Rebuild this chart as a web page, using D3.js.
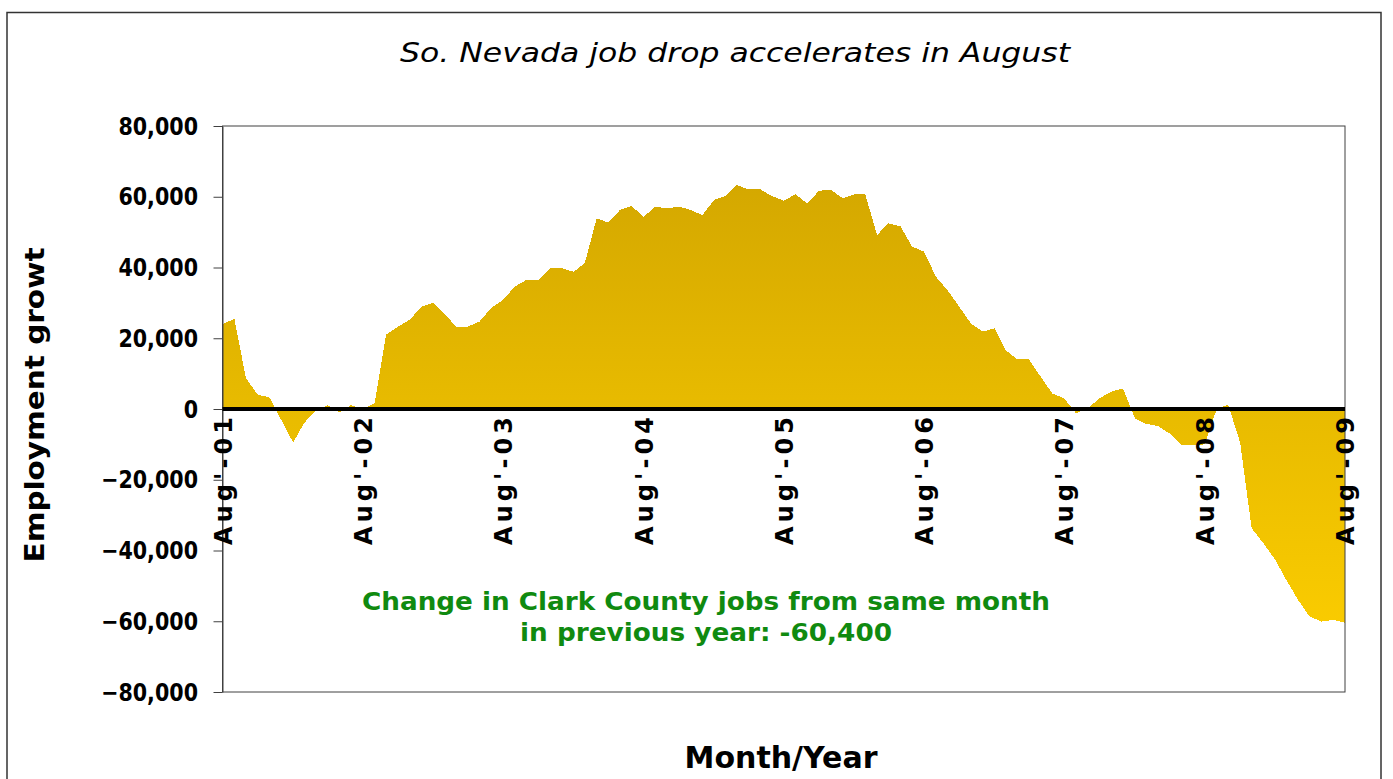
<!DOCTYPE html>
<html>
<head>
<meta charset="utf-8">
<script src="https://cdn.jsdelivr.net/npm/d3@7"></script>
<style>
  body { margin: 0; background: #fff; }
  text { font-family: "DejaVu Sans", Verdana, sans-serif; }
</style>
</head>
<body>
<div id="chart"></div>
<script>
// --- data ---
var startMonth = new Date(2001, 7, 1); // Aug 2001, one value per month to Aug 2009
var jobGrowth = [
  24000, 25500, 8700, 4000, 3300, -3100, -9500, -4000, -500, 1100, -1000, 1100,
  0, 1600, 21000, 23300, 25200, 28900, 30000, 27000, 23300, 23300, 24700, 28500,
  30800, 34600, 36500, 36500, 39800, 39800, 38800, 41200, 53900, 52700, 56300, 57400,
  54300, 57200, 56700, 57200, 56300, 54800, 59100, 60200, 63300, 62100, 62100, 60200,
  58900, 60700, 58100, 61700, 62000, 59600, 60700, 60700, 49200, 52500, 51600, 45900,
  44500, 37400, 33600, 28900, 24200, 21900, 22800, 16700, 14000, 14000, 9100, 4400,
  3000, -1200, 200, 3000, 4900, 5800, -2600, -4200, -4800, -6900, -10200, -10200,
  -10000, 0, 1200, -9500, -33700, -38000, -42700, -48300, -54000, -58700, -60100, -59600,
  -60400
];
var yTicks = [80000, 60000, 40000, 20000, 0, -20000, -40000, -60000, -80000];
var xTickLabels = ["Aug'-01", "Aug'-02", "Aug'-03", "Aug'-04", "Aug'-05",
                   "Aug'-06", "Aug'-07", "Aug'-08", "Aug'-09"];
var titleText = "So. Nevada job drop accelerates in August";
var yTitleText = "Employment growt";
var xTitleText = "Month/Year";
var noteLines = ["Change in Clark County jobs from same month", "in previous year: -60,400"];

// --- layout ---
var W = 1393, H = 779;
var plot = {left: 222.5, right: 1345, top: 126, bottom: 692};

var svg = d3.select("#chart").append("svg")
    .attr("width", W)
    .attr("height", H);

var months = jobGrowth.map(function(d, i){ return d3.timeMonth.offset(startMonth, i); });

var x = d3.scaleTime()
    .domain([months[0], months[months.length - 1]])
    .range([plot.left, plot.right]);
var y = d3.scaleLinear()
    .domain([-80000, 80000])
    .range([plot.bottom, plot.top]);

// outer chart border
svg.append("rect")
    .attr("x", 7).attr("y", 12.5)
    .attr("width", 1374).attr("height", 820)
    .attr("fill", "none")
    .attr("stroke", "#333")
    .attr("stroke-width", 1.5);

// vertical gold gradient over the plot area
var grad = svg.append("defs").append("linearGradient")
    .attr("id", "gold")
    .attr("gradientUnits", "userSpaceOnUse")
    .attr("x1", 0).attr("x2", 0)
    .attr("y1", plot.top).attr("y2", plot.bottom);
grad.append("stop").attr("offset", "0%").attr("stop-color", "#cfa300");
grad.append("stop").attr("offset", "50%").attr("stop-color", "#e8bb00");
grad.append("stop").attr("offset", "100%").attr("stop-color", "#ffd000");

var area = d3.area()
    .x(function(d, i){ return x(months[i]); })
    .y0(y(0))
    .y1(function(d){ return y(d); });

svg.append("path")
    .datum(jobGrowth)
    .attr("d", area)
    .attr("fill", "url(#gold)")
    .style("shape-rendering", "crispEdges");

// plot frame
svg.append("rect")
    .attr("x", plot.left).attr("y", plot.top)
    .attr("width", plot.right - plot.left)
    .attr("height", plot.bottom - plot.top)
    .attr("fill", "none")
    .attr("stroke", "#404040")
    .attr("stroke-width", 1);

// y axis ticks
var yAxis = svg.append("g")
    .attr("transform", "translate(" + plot.left + ",0)")
    .call(d3.axisLeft(y).tickValues(yTicks).tickSize(9).tickSizeOuter(0).tickFormat(""));
yAxis.select(".domain").attr("stroke", "#404040");
yAxis.selectAll(".tick line").attr("stroke", "#404040");

var fmt = d3.format(",");
svg.append("g").selectAll("text")
    .data(yTicks)
    .enter().append("text")
    .attr("transform", function(d){ return "translate(198," + (y(d) + 8.5) + ") scale(0.86,1)"; })
    .attr("text-anchor", "end")
    .attr("font-size", 24)
    .attr("font-weight", "bold")
    .attr("fill", "#000")
    .text(function(d){ return fmt(d); });

// zero line
svg.append("line")
    .attr("x1", plot.left).attr("x2", plot.right)
    .attr("y1", y(0)).attr("y2", y(0))
    .attr("stroke", "#000")
    .attr("stroke-width", 4);

// x labels, one per August
svg.append("g").selectAll("text")
    .data(xTickLabels)
    .enter().append("text")
    .attr("transform", function(d, i){
      return "translate(" + (x(d3.timeYear.offset(startMonth, i)) + 9) + ",417) rotate(-90)";
    })
    .attr("text-anchor", "end")
    .attr("font-size", 24)
    .attr("font-weight", "bold")
    .attr("textLength", 128)
    .attr("lengthAdjust", "spacing")
    .attr("fill", "#000")
    .text(function(d){ return d; });

// title
svg.append("text")
    .attr("x", 735).attr("y", 62)
    .attr("text-anchor", "middle")
    .attr("font-size", 27)
    .attr("font-style", "italic")
    .attr("textLength", 670)
    .attr("lengthAdjust", "spacingAndGlyphs")
    .attr("fill", "#000")
    .text(titleText);

// axis titles
svg.append("text")
    .attr("transform", "translate(44,405) rotate(-90)")
    .attr("text-anchor", "middle")
    .attr("font-size", 26)
    .attr("font-weight", "bold")
    .attr("textLength", 315)
    .attr("lengthAdjust", "spacingAndGlyphs")
    .text(yTitleText);

svg.append("text")
    .attr("x", 781).attr("y", 768)
    .attr("text-anchor", "middle")
    .attr("font-size", 30)
    .attr("font-weight", "bold")
    .attr("textLength", 193)
    .attr("lengthAdjust", "spacingAndGlyphs")
    .text(xTitleText);

// note in green
var noteLengths = [688, 372];
svg.append("g").selectAll("text")
    .data(noteLines)
    .enter().append("text")
    .attr("x", 706)
    .attr("y", function(d, i){ return 610 + i * 31; })
    .attr("text-anchor", "middle")
    .attr("font-size", 25)
    .attr("font-weight", "bold")
    .attr("fill", "#108a10")
    .attr("textLength", function(d, i){ return noteLengths[i]; })
    .attr("lengthAdjust", "spacingAndGlyphs")
    .text(function(d){ return d; });
</script>
</body>
</html>
